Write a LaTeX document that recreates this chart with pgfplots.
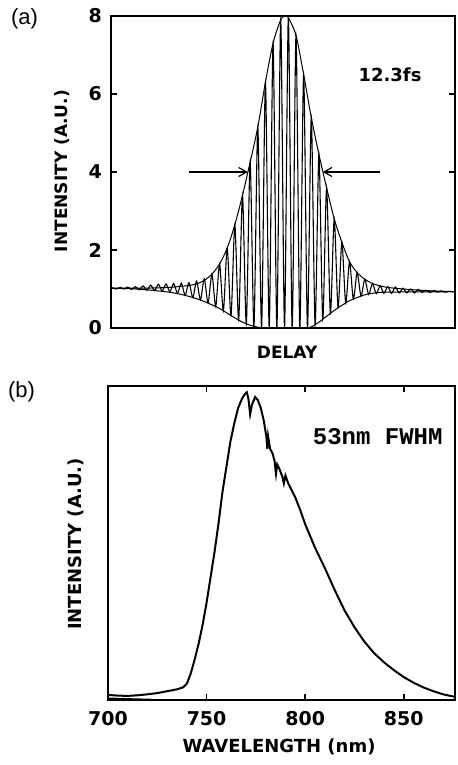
\documentclass[border=0pt]{standalone}
\usepackage{pgfplots}
\pgfplotsset{compat=1.18}
\usetikzlibrary{arrows.meta}
\usepackage{fontspec}
\setmainfont{DejaVu Sans}
\newfontfamily\lblfont{Liberation Sans}
\newfontfamily\monofont{Liberation Mono}
\begin{document}
\begin{tikzpicture}
% ---------- (a) interferometric autocorrelation ----------
\begin{axis}[
  at={(55.5pt,218.5pt)}, anchor=south west,
  scale only axis, width=172pt, height=156pt,
  xmin=-23.2, xmax=21.8, ymin=0, ymax=8,
  xtick=\empty, ytick={0,2,4,6,8},
  ytick pos=both, yticklabel pos=left,
  tick align=inside, major tick length=3pt,
  axis line style={line width=1pt},
  tick style={line width=0.8pt, black},
  /pgf/number format/assume math mode=true,
  ticklabel style={font=\bfseries\fontsize{9.5}{10}\selectfont},
  yticklabel style={xshift=-1pt},
  xlabel={DELAY}, ylabel={INTENSITY (A.U.)},
  xlabel style={font=\bfseries\fontsize{8.5}{10}\selectfont, at={(axis description cs:0.512,-0.077)}, anchor=center},
  ylabel style={font=\bfseries\fontsize{8.5}{10}\selectfont, at={(axis description cs:-0.141,0.503)}, anchor=center},
]
% fringes
\addplot[black, line width=0.55pt, smooth, tension=0.45] coordinates {
(-23.2,1.02) (-23,1.03) (-22.5,1.0) (-22,1.04) (-21.5,1.0) (-21,1.05) (-20.5,0.99) (-20,1.06)
(-19.5,0.98) (-19,1.08) (-18.5,0.97) (-18,1.10) (-17.5,0.96) (-17,1.12) (-16.5,0.95) (-16,1.13)
(-15.5,0.93) (-15,1.14) (-14.5,0.89) (-14,1.15) (-13.5,0.84) (-13,1.16) (-12.5,0.78) (-12,1.20)
(-11.5,0.72) (-11,1.26) (-10.5,0.64) (-10,1.38) (-9.5,0.55) (-9,1.64) (-8.5,0.44) (-8,2.05)
(-7.5,0.32) (-7,2.65) (-6.5,0.20) (-6,3.40) (-5.5,0.11) (-5,4.25) (-4.5,0.04) (-4,5.15)
(-3.5,0.01) (-3,6.30) (-2.5,0.0) (-2,7.30) (-1.5,0.0) (-1,7.90) (-0.5,0.0) (0,7.96)
(0.5,0.0) (1,7.50) (1.5,0.0) (2,6.50) (2.5,0.01) (3,5.40) (3.5,0.08) (4,4.45)
(4.5,0.22) (5,3.60) (5.5,0.37) (6,2.80) (6.5,0.52) (7,2.20) (7.5,0.64) (8,1.70)
(8.5,0.74) (9,1.42) (9.5,0.82) (10,1.25) (10.5,0.86) (11,1.14) (11.5,0.88) (12,1.08)
(12.5,0.89) (13,1.06) (13.5,0.89) (14,1.05) (14.5,0.90) (15,1.02) (15.5,0.90) (16,1.00)
(16.5,0.90) (17,0.99) (17.5,0.91) (18,0.97) (18.5,0.91) (19,0.96) (19.5,0.92) (20,0.95)
(20.5,0.92) (21,0.94) (21.5,0.93) (21.8,0.93)
};
% upper envelope
\addplot[black, line width=0.5pt, smooth] coordinates {
(-23.2,1.02) (-20,1.02) (-17,1.03) (-15,1.05) (-14,1.07) (-13,1.09) (-12,1.13) (-11,1.22)
(-10,1.38) (-9,1.64) (-8,2.05) (-7,2.65) (-6,3.40) (-5,4.25) (-4,5.15) (-3,6.30)
(-2,7.30) (-1,7.90) (-0.4,8.0) (0,7.96) (1,7.50) (2,6.50) (3,5.40) (4,4.45) (5,3.60)
(6,2.80) (7,2.20) (8,1.70) (9,1.42) (10,1.25) (11,1.14) (12,1.08) (13,1.04) (15,1.00)
(18,0.96) (21.8,0.93)
};
% lower envelope
\addplot[black, line width=0.5pt, smooth] coordinates {
(-23.2,1.02) (-20,1.0) (-17,0.95) (-15,0.90) (-13,0.81) (-11,0.68) (-9,0.50) (-8,0.38)
(-7,0.26) (-6,0.15) (-5,0.07) (-4,0.02) (-3,0.0) (2,0.0) (3,0.03) (4,0.15) (5,0.30)
(6,0.45) (7,0.58) (8,0.70) (9,0.78) (10,0.85) (11,0.89) (13,0.92) (21.8,0.93)
};
\draw[line width=0.6pt, -{Straight Barb[length=4pt,width=4.5pt]}] (axis cs:-13.0,4) -- (axis cs:-5.3,4);
\draw[line width=0.6pt, -{Straight Barb[length=4pt,width=4.5pt]}] (axis cs:12.0,4) -- (axis cs:4.5,4);
\node[font=\bfseries\fontsize{9}{10}\selectfont] at (axis cs:13.3,6.49) {12.3fs};
\end{axis}

% ---------- (b) spectrum ----------
\begin{axis}[
  at={(54pt,32.5pt)}, anchor=south west,
  scale only axis, width=173.5pt, height=157pt,
  xmin=700, xmax=876, ymin=0, ymax=1,
  xtick={700,750,800,850}, ytick=\empty,
  xtick pos=both, xticklabel pos=bottom,
  tick align=inside, major tick length=3pt,
  axis line style={line width=1pt},
  tick style={line width=0.8pt, black},
  /pgf/number format/assume math mode=true,
  ticklabel style={font=\bfseries\fontsize{9.5}{10}\selectfont},
  xticklabel style={yshift=-2pt},
  xlabel={WAVELENGTH (nm)}, ylabel={INTENSITY (A.U.)},
  xlabel style={font=\bfseries\fontsize{9}{10}\selectfont, at={(axis description cs:0.493,-0.150)}, anchor=center},
  ylabel style={font=\bfseries\fontsize{9}{10}\selectfont, at={(axis description cs:-0.092,0.497)}, anchor=center},
]
\addplot[black, line width=1pt, sharp plot] coordinates {
(700,0.016) (705,0.014) (710,0.013) (715,0.015) (720,0.018) (725,0.022) (730,0.028)
(735,0.034) (738,0.040) (740,0.052) (742,0.085) (744,0.13) (746,0.18) (748,0.24)
(750,0.31) (752,0.39) (754,0.47) (756,0.56) (758,0.66) (760,0.74) (762,0.82)
(764,0.88) (766,0.93) (768,0.96) (769.5,0.975) (770.4,0.98) (771.2,0.96) (772.1,0.91)
(773,0.94) (774.6,0.965) (776,0.955) (777.5,0.93) (779,0.89) (780.3,0.84) (780.8,0.80)
(781.2,0.84) (782.2,0.80) (783.5,0.785) (784.5,0.76) (785.2,0.72) (785.8,0.75)
(787,0.735) (788.5,0.71) (789.2,0.69) (790,0.715) (791.4,0.69) (793,0.67) (795,0.645)
(797.5,0.605) (800,0.56) (805,0.485) (810,0.42) (815,0.35) (820,0.285) (825,0.232)
(830,0.186) (835,0.149) (840,0.12) (845,0.095) (850,0.073) (855,0.055) (860,0.04)
(865,0.028) (870,0.018) (876,0.01)
};
\addplot[black, line width=0.6pt, sharp plot] coordinates {
(700,0.006) (710,0.004) (722,0.002)
};
\node[font=\monofont\bfseries\fontsize{12}{13}\selectfont] at (axis cs:836.8,0.838) {53nm FWHM};
\end{axis}

\node[font=\lblfont\fontsize{11}{12}\selectfont] at (12.25pt,373.25pt) {(a)};
\node[font=\lblfont\fontsize{11}{12}\selectfont] at (10.75pt,186.75pt) {(b)};

\pgfresetboundingbox
\path[use as bounding box] (0,0) rectangle (228.5pt,382.5pt);
\end{tikzpicture}
\end{document}
